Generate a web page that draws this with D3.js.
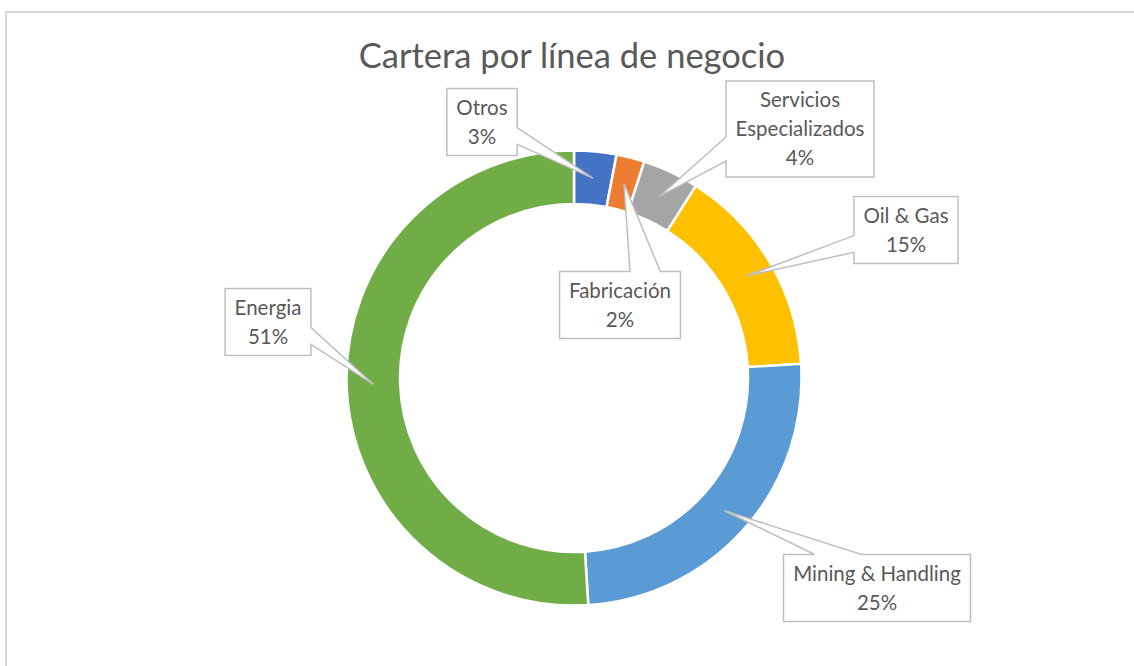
<!DOCTYPE html>
<html>
<head>
<meta charset="utf-8">
<script src="https://cdn.jsdelivr.net/npm/d3@7"></script>
<style>
  body { margin: 0; background: #fff; }
  svg { display: block; }
</style>
</head>
<body>
<div id="chart"></div>
<script>
const categories = ["Otros", "Fabricación", "Servicios Especializados", "Oil & Gas", "Mining & Handling", "Energia"];
const labelLines = [["Otros"], ["Fabricación"], ["Servicios", "Especializados"], ["Oil & Gas"], ["Mining & Handling"], ["Energia"]];
const values = [3, 2, 4, 15, 25, 51];
const colors = ["#4472C4", "#ED7D31", "#A5A5A5", "#FFC000", "#5B9BD5", "#70AD47"];

// where each callout box sits (centre), moved by hand like in the source chart
const labelCenters = [[482, 122], [620, 305], [800, 129], [906, 230], [877, 588], [268, 322]];

const width = 1134;
const height = 666;
const cx = 574, cy = 378;
const outerR = 227.5, innerR = 174;
const textColor = "#595959";
const font = "Lato, 'Open Sans', sans-serif";

const svg = d3
  .select("#chart")
  .append("svg")
  .attr("width", width)
  .attr("height", height);

// chart area border
svg.append("rect")
  .attr("x", 6).attr("y", 12)
  .attr("width", width).attr("height", height)
  .attr("fill", "#fff")
  .attr("stroke", "#d9d9d9")
  .attr("stroke-width", 2);

svg.append("text")
  .attr("x", 572).attr("y", 68)
  .attr("text-anchor", "middle")
  .attr("fill", textColor)
  .style("font-family", font)
  .style("font-size", "34.5px")
  .text("Cartera por línea de negocio");

const pie = d3.pie().sort(null).value((d) => d);
const arcs = pie(values);
const arc = d3.arc().innerRadius(innerR).outerRadius(outerR);
const total = d3.sum(values);

const g = svg.append("g").attr("transform", `translate(${cx},${cy})`);

g.selectAll("path")
  .data(arcs)
  .enter()
  .append("path")
  .attr("d", arc)
  .attr("fill", (d, i) => colors[i])
  .attr("stroke", "#fff")
  .attr("stroke-width", 2.5);

// callout shape, same rules as Excel's wedgeRectCallout
function callout(l, t, w, h, tx, ty) {
  const r = l + w, b = t + h;
  const dx = tx - (l + w / 2), dy = ty - (t + h / 2);
  const dq = dx * h / w;
  const xa = l + w * (dx > 0 ? 7 : 2) / 12, xb = l + w * (dx > 0 ? 10 : 5) / 12;
  const ya = t + h * (dy > 0 ? 7 : 2) / 12, yb = t + h * (dy > 0 ? 10 : 5) / 12;
  const p = d3.path();
  p.moveTo(l, t);
  if (Math.abs(dy) > Math.abs(dq) && dy < 0) { p.lineTo(xa, t); p.lineTo(tx, ty); p.lineTo(xb, t); }
  p.lineTo(r, t);
  if (Math.abs(dy) <= Math.abs(dq) && dx > 0) { p.lineTo(r, ya); p.lineTo(tx, ty); p.lineTo(r, yb); }
  p.lineTo(r, b);
  if (Math.abs(dy) > Math.abs(dq) && dy > 0) { p.lineTo(xb, b); p.lineTo(tx, ty); p.lineTo(xa, b); }
  p.lineTo(l, b);
  if (Math.abs(dy) <= Math.abs(dq) && dx < 0) { p.lineTo(l, yb); p.lineTo(tx, ty); p.lineTo(l, ya); }
  p.closePath();
  return p.toString();
}

const midR = (innerR + outerR) / 2;
const lineH = 29;

arcs.forEach((d, i) => {
  const lines = labelLines[i].concat([d3.format(".0%")(d.value / total)]);
  const [lx, ly] = labelCenters[i];
  const lg = svg.append("g");
  const shape = lg.append("path");
  const txt = lg.append("text")
    .attr("text-anchor", "middle")
    .attr("fill", textColor)
    .style("font-family", font)
    .style("font-size", "20.5px");
  const top = ly - (lines.length * lineH) / 2;
  lines.forEach((s, k) => {
    txt.append("tspan")
      .attr("x", lx)
      .attr("y", top + lineH * k + lineH / 2 + 7)
      .text(s);
  });
  const tw = txt.node().getBBox().width;
  const w = tw + 19;
  const h = lines.length * lineH + 9;
  const a = (d.startAngle + d.endAngle) / 2;
  const tx = cx + midR * Math.sin(a);
  const ty = cy - midR * Math.cos(a);
  shape
    .attr("d", callout(lx - w / 2, ly - h / 2, w, h, tx, ty))
    .attr("fill", "#fff")
    .attr("stroke", "#bfbfbf")
    .attr("stroke-width", 1.5);
});
</script>
</body>
</html>
